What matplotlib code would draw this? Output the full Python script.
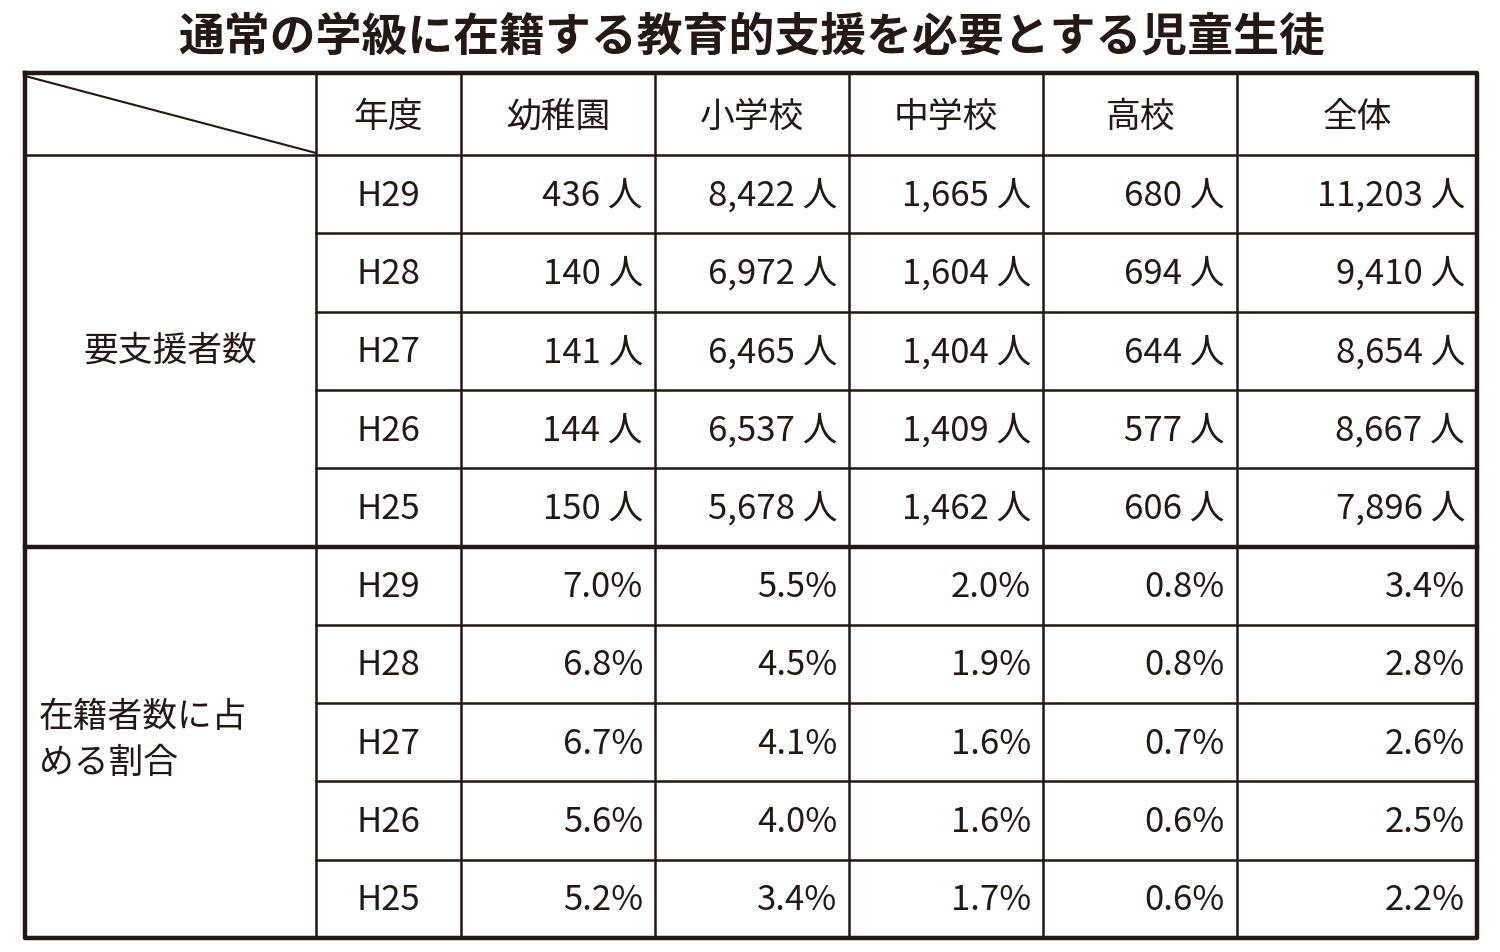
import matplotlib
matplotlib.use("Agg")
import matplotlib.pyplot as plt

title = "通常の学級に在籍する教育的支援を必要とする児童生徒"
header = ["年度", "幼稚園", "小学校", "中学校", "高校", "全体"]
years = ["H29", "H28", "H27", "H26", "H25"]
counts = [
    [436, 8422, 1665, 680, 11203],
    [140, 6972, 1604, 694, 9410],
    [141, 6465, 1404, 644, 8654],
    [144, 6537, 1409, 577, 8667],
    [150, 5678, 1462, 606, 7896],
]
percents = [
    [7.0, 5.5, 2.0, 0.8, 3.4],
    [6.8, 4.5, 1.9, 0.8, 2.8],
    [6.7, 4.1, 1.6, 0.7, 2.6],
    [5.6, 4.0, 1.6, 0.6, 2.5],
    [5.2, 3.4, 1.7, 0.6, 2.2],
]
group_labels = ["要支援者数", "在籍者数に占\nめる割合"]

plt.rcParams["font.family"] = "Noto Sans CJK JP"
fig = plt.figure(figsize=(15, 9.52), dpi=100)
ax = fig.add_axes([0, 0, 1, 1])
ax.set_xlim(0, 1500)
ax.set_ylim(952, 0)
ax.axis("off")

xs = [25, 316, 461, 655, 849, 1043, 1237, 1477]
y0, yh = 73, 155
rh = 78.3
rows_y = [yh + i * rh for i in range(11)]
col = "#231815"

ax.text(752, 38, title, ha="center", va="center", fontsize=33, fontweight="bold", color=col)

lw_out, lw_in = 3.2, 1.8
ax.plot([xs[0], xs[-1], xs[-1], xs[0], xs[0]], [y0, y0, rows_y[-1], rows_y[-1], y0], color=col, lw=lw_out)
ax.plot([xs[0], xs[-1]], [yh, yh], color=col, lw=lw_in)
ax.plot([xs[0], xs[-1]], [rows_y[5], rows_y[5]], color=col, lw=lw_out)
for i in range(1, 10):
    if i == 5:
        continue
    ax.plot([xs[1], xs[-1]], [rows_y[i], rows_y[i]], color=col, lw=lw_in)
for x in xs[1:-1]:
    ax.plot([x, x], [y0, rows_y[-1]], color=col, lw=lw_in)
ax.plot([xs[0], xs[1]], [y0 + 3, yh - 2], color=col, lw=1.5)

fs = 25
for j, h in enumerate(header):
    ax.text((xs[j + 1] + xs[j + 2]) / 2, (y0 + yh) / 2 + 3, h, ha="center", va="center", fontsize=fs, color=col)

for g in range(2):
    data = counts if g == 0 else percents
    for i, yr in enumerate(years):
        r = g * 5 + i
        yc = (rows_y[r] + rows_y[r + 1]) / 2 + 2
        ax.text((xs[1] + xs[2]) / 2, yc, yr, ha="center", va="center", fontsize=fs, color=col)
        for k, v in enumerate(data[i]):
            s = f"{v:,} 人" if g == 0 else f"{v:.1f}%"
            ax.text(xs[k + 3] - 12, yc, s, ha="right", va="center", fontsize=fs, color=col)

ax.text((xs[0] + xs[1]) / 2, (rows_y[0] + rows_y[5]) / 2, group_labels[0], ha="center", va="center", fontsize=fs, color=col)
ax.text(xs[0] + 14, (rows_y[5] + rows_y[10]) / 2 - 2, group_labels[1], ha="left", va="center", fontsize=fs, color=col, linespacing=1.4)

fig.savefig("out.png", dpi=100, facecolor="white")
